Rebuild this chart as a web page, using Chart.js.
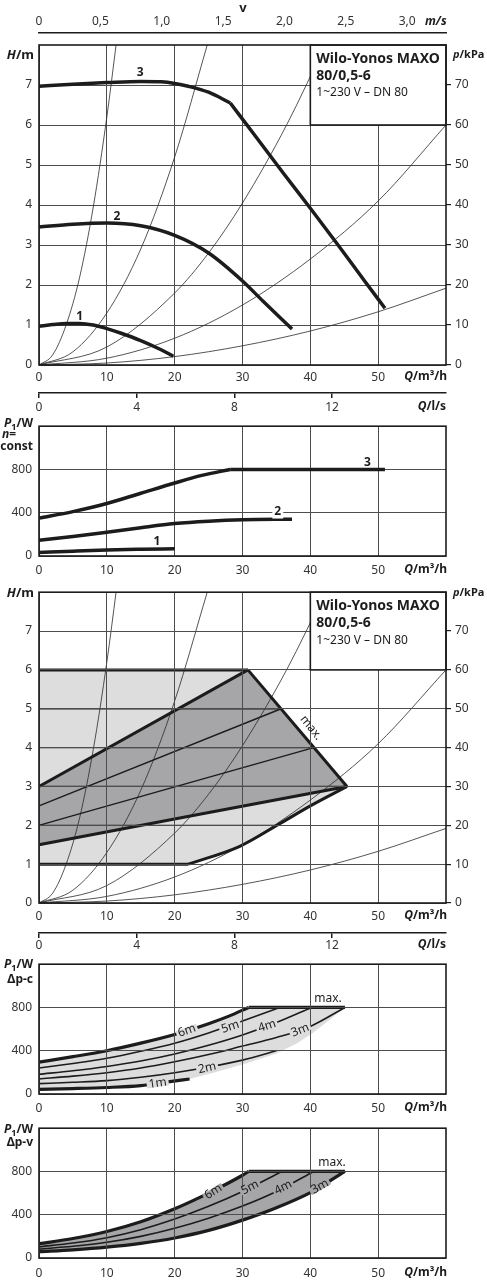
<!DOCTYPE html>
<html>
<head>
<meta charset="utf-8">
<script src="https://cdn.jsdelivr.net/npm/chart.js@4.4.1/dist/chart.umd.min.js"></script>
<style>
  html, body { margin:0; padding:0; background:#ffffff; }
  #page { position:relative; width:487px; height:1280px; overflow:hidden; background:#ffffff; }
  #page canvas { position:absolute; left:0; }
</style>
</head>
<body>
<div id="page">
  <canvas id="c1" width="487" height="420" style="top:0px;width:487px;height:420px"></canvas>
  <canvas id="c2" width="487" height="168" style="top:412px;width:487px;height:168px"></canvas>
  <canvas id="c3" width="487" height="380" style="top:578px;width:487px;height:380px"></canvas>
  <canvas id="c4" width="487" height="166" style="top:950px;width:487px;height:166px"></canvas>
  <canvas id="c5" width="487" height="166" style="top:1114px;width:487px;height:166px"></canvas>
</div>
<script>
// ---------------- tick labels / axis ranges ----------------
const qTicks  = [0, 10, 20, 30, 40, 50];
const hTicks  = [0, 1, 2, 3, 4, 5, 6, 7];
const pTicks  = [0, 10, 20, 30, 40, 50, 60, 70];
const vTicks  = [0, 0.5, 1.0, 1.5, 2.0, 2.5, 3.0];
const lsTicks = [0, 4, 8, 12];
const wTicks  = [0, 400, 800];
const qMax = 60, hMax = 8, pMax = 80, vMax = 3.316, lsMax = 16.667, wMax = 1200;

// ---------------- panel 1 : H/Q, n = const ----------------
const hq1 = [[0,0.97],[2,1.01],[4,1.04],[6,1.04],[8,1.0],[10,0.91],[12,0.8],[15,0.61],[18,0.38],[19.8,0.22]];
const hq2 = [[0,3.45],[5,3.52],[10,3.55],[15,3.48],[20,3.24],[25,2.8],[30,2.1],[33,1.6],[37.3,0.9]];
const hq3Flat = [[0,6.97],[5,7.02],[10,7.06],[15,7.09],[18,7.08],[20,7.04],[22,6.97],[25,6.82],[28.2,6.55]];
const hq3Drop = [[28.2,6.55],[32,5.7],[36,4.8],[40,3.92],[44,3.02],[48,2.1],[51,1.42]];
// system curves (thin)
const sys1 = [[0,0],[2,0.25],[4,1.0],[6,2.2],[8,3.95],[10,6.2],[11.4,8.05]];
const sys2 = [[0,0],[5,0.33],[10,1.3],[15,2.9],[20,5.2],[24.8,8.0]];
const sys3 = [[0,0],[10,0.45],[20,1.8],[25,2.8],[30,4.05],[36.5,6.0],[42.2,8.0]];
const sys4 = [[0,0],[10,0.17],[20,0.67],[30,1.5],[40,2.65],[50,4.1],[60,6.0]];
const sys5 = [[0,0],[10,0.05],[20,0.21],[30,0.48],[40,0.85],[50,1.33],[60,1.92]];

// ---------------- panel 2 : P1/W, n = const ----------------
const pw1 = [[0,32],[5,45],[10,56],[15,62],[20,66]];
const pw2 = [[0,145],[5,180],[10,220],[15,262],[20,300],[25,322],[30,335],[37.3,340]];
const pw3Rise = [[0,350],[5,410],[10,485],[15,580],[20,675],[24,745],[28.2,800]];
const pw3Flat = [[28.2,800],[51,800]];

// ---------------- panel 3 : H/Q control ranges ----------------
const dpcTop = [[0,6],[30.8,6]];
const dpcMax = [[30.8,6],[45.4,3]];
const dpcLow = [[22,1],[29.6,1.46],[35.1,2],[40,2.5],[45.4,3]];
const dpcMin = [[0,1],[22,1]];
const dpc5 = [[0,5],[35.7,5]];
const dpc4 = [[0,4],[40.5,4]];
const dpc3 = [[0,3],[45.4,3]];
const dpc2 = [[0,2],[35.1,2]];
const dpv6 = [[0,3],[30.8,6]];
const dpv5 = [[0,2.5],[35.7,5]];
const dpv4 = [[0,2],[40.5,4]];
const dpv3 = [[0,1.5],[45.4,3]];

// ---------------- panel 4 : P1/W, Δp-c ----------------
const pc6W = [[0,295],[5,345],[10,400],[15,470],[20,550],[25,650],[28,720],[30.9,800]];
const pcMaxW = [[30.9,800],[45.1,800]];
const pc5W = [[0,240],[5,282],[10,330],[15,395],[20,470],[25,565],[30,675],[35.5,800]];
const pc4W = [[0,183],[5,215],[10,255],[15,305],[20,370],[25,450],[30,545],[35,660],[40.2,800]];
const pc3W = [[0,139],[5,165],[10,197],[15,240],[20,298],[25,365],[30,443],[35,522],[40,625],[45.1,800]];
const pc2W = [[0,96],[5,108],[10,124],[15,155],[20,197],[25,250],[30,313],[35,400]];
const pc1W = [[0,43],[5,50],[10,60],[15,78],[19.3,114],[22.2,139]];
const pcEdgeW = [[22.2,139],[25.7,197],[30.6,284],[35,375],[38,468],[40.5,570],[42.9,688],[45.1,800]];

// ---------------- panel 5 : P1/W, Δp-v ----------------
const pv6W = [[0,132],[5,180],[10,245],[15,335],[20,455],[25,600],[30,765],[30.9,800]];
const pv5W = [[0,103],[5,138],[10,188],[15,262],[20,360],[25,478],[30,615],[35.8,800]];
const pv4W = [[0,82],[5,108],[10,145],[15,200],[20,275],[25,368],[30,480],[35,615],[40.5,800]];
const pv3W = [[0,59],[5,76],[10,100],[15,135],[20,185],[25,255],[30,350],[35,465],[40,605],[45.1,800]];
const pvMaxW = [[30.9,800],[45.1,800]];

// ---------------- styles ----------------
const FONT = '"Noto Sans", "DejaVu Sans", sans-serif';
const INK = '#1c1c1c';
const GRID = '#4d4d4d';
const TICKC = '#333333';
const LIGHT = '#dddddd';
const DARK = '#a6a6a8';
const tickFont = {family: FONT, size: 12};

const pts = a => a.map(p => ({x: p[0], y: p[1]}));
function lineDS(arr, w, order) {
  return {data: pts(arr), borderColor: INK, borderWidth: w, pointRadius: 0, fill: false,
          cubicInterpolationMode: 'monotone', order: order || 0, clip: 2,
          borderCapStyle: 'butt', borderJoinStyle: 'round'};
}
function thinDS(arr) {
  return {data: pts(arr), borderColor: '#2a2a2a', borderWidth: 0.8, pointRadius: 0, fill: false,
          cubicInterpolationMode: 'monotone', order: 5};
}
function shapeDS(arr, color, order) {
  return {data: pts(arr), borderWidth: 0, borderColor: 'rgba(0,0,0,0)', backgroundColor: color,
          pointRadius: 0, fill: 'shape', tension: 0, order: order};
}
const fixedTicks = list => (s => { s.ticks = list.map(v => ({value: v})); });

function xMain(height, pad, gz) {
  return {type: 'linear', bounds: 'data', position: 'bottom', weight: 0, min: 0, max: qMax,
    afterBuildTicks: fixedTicks(qTicks), afterFit: s => { s.height = height; },
    grid: {color: GRID, lineWidth: 1, drawTicks: false, z: gz},
    border: {display: false},
    ticks: {font: tickFont, color: TICKC, padding: pad, autoSkip: false, maxRotation: 0, callback: v => String(v)}};
}
function yMain(max, list, gz) {
  return {type: 'linear', bounds: 'data', position: 'left', min: 0, max: max,
    afterBuildTicks: fixedTicks(list), afterFit: s => { s.width = 39; },
    grid: {color: GRID, lineWidth: 1, drawTicks: false, z: gz},
    border: {display: false},
    ticks: {font: tickFont, color: TICKC, padding: 7, autoSkip: false, callback: v => String(v)}};
}
function yRight() {
  return {type: 'linear', bounds: 'data', position: 'right', min: 0, max: pMax,
    afterBuildTicks: fixedTicks(pTicks), afterFit: s => { s.width = 41; },
    grid: {drawOnChartArea: false, drawTicks: true, tickLength: 5, color: INK, lineWidth: 1.2},
    border: {display: false},
    ticks: {font: tickFont, color: TICKC, padding: 4, autoSkip: false, callback: v => String(v)}};
}
function xLs(height, pad) {
  return {type: 'linear', bounds: 'data', position: 'bottom', weight: 1, min: 0, max: lsMax,
    afterBuildTicks: fixedTicks(lsTicks), afterFit: s => { s.height = height; },
    grid: {drawOnChartArea: false, drawTicks: true, tickLength: 5, color: INK, lineWidth: 1.5},
    border: {display: true, color: INK, width: 1.5},
    ticks: {font: tickFont, color: TICKC, padding: pad, autoSkip: false, maxRotation: 0, callback: v => String(v)}};
}
function xV() {
  return {type: 'linear', bounds: 'data', position: 'top', weight: 1, min: 0, max: vMax,
    afterBuildTicks: fixedTicks(vTicks), afterFit: s => { s.height = 33; },
    grid: {drawOnChartArea: false, drawTicks: false},
    border: {display: true, color: INK, width: 1.5},
    ticks: {font: tickFont, color: TICKC, padding: 4, autoSkip: false, maxRotation: 0,
            callback: v => v === 0 ? '0' : v.toFixed(1).replace('.', ',')}};
}
function xSpacer() {
  return {type: 'linear', position: 'top', weight: 0, min: 0, max: 1,
    afterFit: s => { s.height = 12; },
    grid: {display: false}, border: {display: false}, ticks: {display: false}};
}

// ---------------- text helpers ----------------
const B = t => ({t});
const I = t => ({t, i: true});
const S = t => ({t, s: true});
const N = t => ({t, n: true});
function rich(ctx, parts, x, y, align, size) {
  ctx.save();
  ctx.textBaseline = 'middle';
  ctx.fillStyle = INK;
  const f = p => (p.i ? 'italic ' : '') + (p.n ? '' : 'bold ') + (p.s ? Math.round(size * 0.75) : size) + 'px ' + FONT;
  const ws = parts.map(p => { ctx.font = f(p); return ctx.measureText(p.t).width; });
  const tot = ws.reduce((a, b) => a + b, 0);
  let cx = align === 'right' ? x - tot : align === 'center' ? x - tot / 2 : x;
  ctx.textAlign = 'left';
  parts.forEach((p, k) => { ctx.font = f(p); ctx.fillText(p.t, cx, y + (p.s ? size * 0.28 : 0)); cx += ws[k]; });
  ctx.restore();
}

function decor(spec) {
  return {
    id: 'decor',
    afterDraw(chart) {
      const ctx = chart.ctx, a = chart.chartArea;
      const xs = chart.scales.x, ys = chart.scales.y;
      if (spec.box) {
        const bx = xs.getPixelForValue(40), by = ys.getPixelForValue(6);
        ctx.save();
        ctx.fillStyle = '#ffffff';
        ctx.fillRect(bx, a.top, a.right - bx, by - a.top);
        ctx.strokeStyle = INK; ctx.lineWidth = 1.6;
        ctx.strokeRect(bx, a.top, a.right - bx, by - a.top);
        ctx.restore();
        rich(ctx, [B('Wilo-Yonos MAXO')], bx + 6, a.top + 14, 'left', 14);
        rich(ctx, [B('80/0,5-6')], bx + 6, a.top + 31, 'left', 14);
        rich(ctx, [N('1~230 V – DN 80')], bx + 6, a.top + 48, 'left', 12);
      }
      (spec.labels || []).forEach(l => {
        const px = xs.getPixelForValue(l.q), py = ys.getPixelForValue(l.v);
        ctx.save();
        ctx.translate(px, py);
        ctx.rotate((l.rot || 0) * Math.PI / 180);
        ctx.font = (l.bold ? 'bold ' : '') + '12px ' + FONT;
        ctx.textAlign = 'center'; ctx.textBaseline = 'middle';
        const w = ctx.measureText(l.t).width;
        if (l.bg) { ctx.fillStyle = l.bg; ctx.fillRect(-w / 2 - 2, -l.bh / 2, w + 4, l.bh); }
        ctx.fillStyle = INK;
        ctx.fillText(l.t, 0, 0);
        ctx.restore();
      });
      ctx.save();
      ctx.strokeStyle = INK; ctx.lineWidth = 1.6;
      ctx.strokeRect(a.left, a.top, a.right - a.left, a.bottom - a.top);
      ctx.restore();
      (spec.texts || []).forEach(t => rich(ctx, t.p, t.x, t.y - spec.top, t.a, t.s));
    }
  };
}

function make(id, datasets, scales, padding, spec) {
  return new Chart(document.getElementById(id), {
    type: 'line',
    data: {datasets},
    options: {
      responsive: false, animation: false, devicePixelRatio: 1,
      layout: {padding},
      plugins: {legend: {display: false}, tooltip: {enabled: false}},
      elements: {point: {radius: 0}},
      scales
    },
    plugins: [decor(spec)]
  });
}

// ---------------- panel 1 ----------------
make('c1',
  [lineDS(hq1, 3.5), lineDS(hq2, 3.5), lineDS(hq3Flat, 3.5), lineDS(hq3Drop, 3.5),
   thinDS(sys1), thinDS(sys2), thinDS(sys3), thinDS(sys4), thinDS(sys5)],
  {x: xMain(28, 5, 0), xls: xLs(27, 2), xv: xV(), xsp: xSpacer(), y: yMain(hMax, hTicks, 0), y2: yRight()},
  {top: 0, bottom: 0, left: 0, right: 0},
  {top: 0, box: true,
   labels: [{t: '3', q: 14.9, v: 7.3, bold: true}, {t: '2', q: 11.5, v: 3.72, bold: true}, {t: '1', q: 6.0, v: 1.22, bold: true}],
   texts: [
     {p: [B('v')], x: 243, y: 8, a: 'center', s: 13},
     {p: [I('m/s')], x: 425, y: 22, a: 'left', s: 12},
     {p: [I('H'), B('/m')], x: 34, y: 55, a: 'right', s: 13},
     {p: [I('p'), B('/kPa')], x: 453, y: 55, a: 'left', s: 11},
     {p: [I('Q'), B('/m³/h')], x: 447, y: 377, a: 'right', s: 12},
     {p: [I('Q'), B('/l/s')], x: 446, y: 407, a: 'right', s: 12}
   ]});

// ---------------- panel 2 ----------------
make('c2',
  [lineDS(pw1, 3.5), lineDS(pw2, 3.5), lineDS(pw3Rise, 3.5), lineDS(pw3Flat, 3.5)],
  {x: xMain(24, 7, 0), y: yMain(wMax, wTicks, 0)},
  {top: 8, bottom: 0, left: 0, right: 41},
  {top: 412,
   labels: [{t: '3', q: 48.4, v: 865, bold: true}, {t: '2', q: 35.2, v: 411, bold: true, bg: '#ffffff', bh: 14}, {t: '1', q: 17.4, v: 129, bold: true}],
   texts: [
     {p: [I('P'), S('1'), B('/W')], x: 33, y: 424, a: 'right', s: 12},
     {p: [I('n'), B('=')], x: 2, y: 435, a: 'left', s: 12},
     {p: [B('const')], x: 33, y: 447, a: 'right', s: 12},
     {p: [I('Q'), B('/m³/h')], x: 447, y: 570, a: 'right', s: 12}
   ]});

// ---------------- panel 3 ----------------
const lightPoly = dpcTop.concat(dpcLow.slice().reverse(), [dpcMin[0]]);
const darkPoly = dpv6.concat(dpv3.slice().reverse());
make('c3',
  [shapeDS(lightPoly, LIGHT, 11), shapeDS(darkPoly, DARK, 10),
   thinDS(sys1), thinDS(sys2), thinDS(sys3), thinDS(sys4), thinDS(sys5),
   lineDS(dpc5, 1.3, 1), lineDS(dpc4, 1.3, 1), lineDS(dpc3, 1.3, 1), lineDS(dpc2, 1.3, 1),
   lineDS(dpv5, 1.4, 1), lineDS(dpv4, 1.4, 1),
   lineDS(dpcTop, 3), lineDS(dpcMax, 3), lineDS(dpcLow, 3), lineDS(dpcMin, 3),
   lineDS(dpv6, 3), lineDS(dpv3, 3)],
  {x: xMain(30, 6, 1), xls: xLs(25, 0), y: yMain(hMax, hTicks, 1), y2: yRight()},
  {top: 5, bottom: 0, left: 0, right: 0},
  {top: 578, box: true,
   labels: [{t: 'max.', q: 40.1, v: 4.51, rot: 51}],
   texts: [
     {p: [I('H'), B('/m')], x: 34, y: 593, a: 'right', s: 13},
     {p: [I('p'), B('/kPa')], x: 453, y: 593, a: 'left', s: 11},
     {p: [I('Q'), B('/m³/h')], x: 447, y: 916, a: 'right', s: 12},
     {p: [I('Q'), B('/l/s')], x: 446, y: 945, a: 'right', s: 12}
   ]});

// ---------------- panel 4 ----------------
const pcPoly = pc6W.concat(pcEdgeW.slice().reverse(), pc1W.slice(0, -1).reverse());
make('c4',
  [shapeDS(pcPoly, LIGHT, 10),
   lineDS(pc5W, 1.6, 1), lineDS(pc4W, 1.6, 1), lineDS(pc3W, 1.6, 1), lineDS(pc2W, 1.6, 1),
   lineDS(pc6W, 3.2), lineDS(pcMaxW, 3.2), lineDS(pc1W, 3.2)],
  {x: xMain(22, 7, 1), y: yMain(wMax, wTicks, 1)},
  {top: 8, bottom: 0, left: 0, right: 41},
  {top: 950,
   labels: [
     {t: '6m', q: 21.8, v: 585, rot: -20, bg: LIGHT, bh: 7}, {t: '5m', q: 28.2, v: 620, rot: -18, bg: LIGHT, bh: 7},
     {t: '4m', q: 33.6, v: 628, rot: -18, bg: LIGHT, bh: 7}, {t: '3m', q: 38.5, v: 590, rot: -22, bg: LIGHT, bh: 7},
     {t: '2m', q: 24.8, v: 240, rot: -12, bg: LIGHT, bh: 7}, {t: '1m', q: 17.5, v: 98, rot: -8, bg: LIGHT, bh: 7},
     {t: 'max.', q: 42.6, v: 881}],
   texts: [
     {p: [I('P'), S('1'), B('/W')], x: 33, y: 965, a: 'right', s: 12},
     {p: [B('Δp-c')], x: 33, y: 980, a: 'right', s: 12},
     {p: [I('Q'), B('/m³/h')], x: 447, y: 1108, a: 'right', s: 12}
   ]});

// ---------------- panel 5 ----------------
const pvPoly = pv6W.concat(pv3W.slice().reverse());
make('c5',
  [shapeDS(pvPoly, DARK, 10),
   lineDS(pv5W, 1.6, 1), lineDS(pv4W, 1.6, 1),
   lineDS(pv6W, 3.2), lineDS(pvMaxW, 3.2), lineDS(pv3W, 3.2)],
  {x: xMain(22, 8, 1), y: yMain(wMax, wTicks, 1)},
  {top: 9, bottom: 0, left: 0, right: 41},
  {top: 1114,
   labels: [
     {t: '6m', q: 25.7, v: 612, rot: -32, bg: DARK, bh: 7}, {t: '5m', q: 31.1, v: 652, rot: -27, bg: DARK, bh: 7},
     {t: '4m', q: 36.0, v: 652, rot: -27, bg: DARK, bh: 7}, {t: '3m', q: 41.4, v: 660, rot: -30, bg: DARK, bh: 7},
     {t: 'max.', q: 43.2, v: 885}],
   texts: [
     {p: [I('P'), S('1'), B('/W')], x: 33, y: 1130, a: 'right', s: 12},
     {p: [B('Δp-v')], x: 33, y: 1143, a: 'right', s: 12},
     {p: [I('Q'), B('/m³/h')], x: 447, y: 1273, a: 'right', s: 12}
   ]});
</script>
</body>
</html>
